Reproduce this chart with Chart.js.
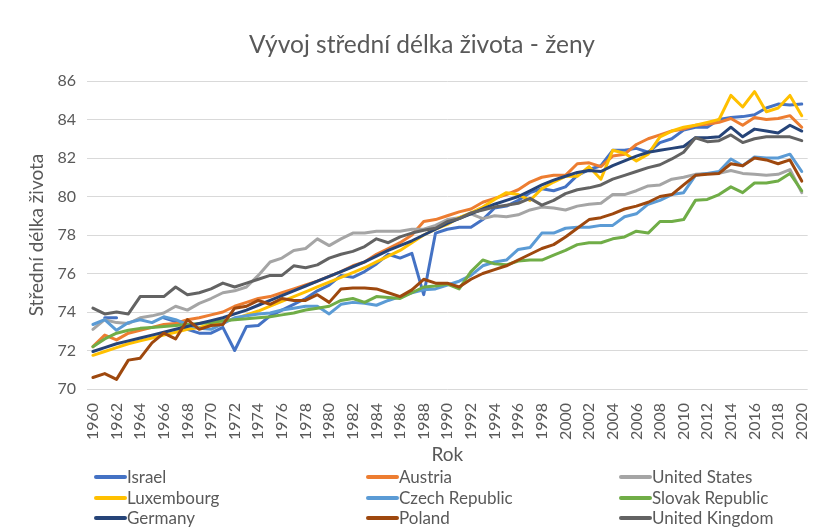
<!DOCTYPE html>
<html>
<head>
<meta charset="utf-8">
<title>Vývoj střední délka života - ženy</title>
<script src="https://cdn.jsdelivr.net/npm/chart.js@4.4.0/dist/chart.umd.min.js"></script>
<style>
  html, body { margin: 0; padding: 0; background: #fff; }
  #wrap { width: 827px; height: 530px; }
</style>
</head>
<body>
<div id="wrap"><canvas id="lifeChart" width="827" height="530"></canvas></div>
<script>
// Female life expectancy, 1960-2020
const years = [
  '1960', '1961', '1962', '1963', '1964', '1965', '1966', '1967', '1968', '1969',
  '1970', '1971', '1972', '1973', '1974', '1975', '1976', '1977', '1978', '1979',
  '1980', '1981', '1982', '1983', '1984', '1985', '1986', '1987', '1988', '1989',
  '1990', '1991', '1992', '1993', '1994', '1995', '1996', '1997', '1998', '1999',
  '2000', '2001', '2002', '2003', '2004', '2005', '2006', '2007', '2008', '2009',
  '2010', '2011', '2012', '2013', '2014', '2015', '2016', '2017', '2018', '2019',
  '2020'
];

const israel = [
  null, 73.7, 73.7, null, null, null, 73.7, 73.5, 73.1, 72.9,
  72.9, 73.2, 72.0, 73.25, 73.3, 73.8, 74.1, 74.4, 74.7, 75.1,
  75.4, 75.9, 75.8, 76.1, 76.5, 77.0, 76.8, 77.05, 74.9, 78.1,
  78.3, 78.4, 78.4, 78.8, 79.4, 79.5, 79.8, 80.2, 80.4, 80.3,
  80.5, 81.1, 81.4, 81.6, 82.4, 82.4, 82.5, 82.3, 82.8, 83.0,
  83.45, 83.6, 83.6, 84.0, 84.1, 84.15, 84.25, 84.6, 84.8, 84.75,
  84.8
];
const austria = [
  72.2, 72.8, 72.55, 72.9, 73.05, 73.2, 73.35, 73.4, 73.6, 73.7,
  73.85, 74.0, 74.3, 74.5, 74.7, 74.8, 75.0, 75.2, 75.4, 75.6,
  75.85, 76.1, 76.4, 76.6, 77.0, 77.3, 77.6, 78.0, 78.7, 78.8,
  79.0, 79.2, 79.35, 79.7, 79.9, 80.1, 80.35, 80.75, 81.0, 81.1,
  81.1, 81.7, 81.75, 81.55, 82.1, 82.2, 82.7, 83.0, 83.2, 83.4,
  83.5, 83.7, 83.75, 83.85, 84.05, 83.7, 84.1, 84.0, 84.05, 84.2,
  83.6
];
const unitedStates = [
  73.1, 73.6, 73.45, 73.4, 73.7, 73.8, 73.95, 74.3, 74.1, 74.45,
  74.7, 75.0, 75.1, 75.3, 75.9, 76.6, 76.8, 77.2, 77.3, 77.8,
  77.45, 77.8, 78.1, 78.1, 78.2, 78.2, 78.2, 78.3, 78.3, 78.5,
  78.8, 78.9, 79.1, 78.85, 79.0, 78.95, 79.05, 79.3, 79.45, 79.4,
  79.3, 79.5, 79.6, 79.65, 80.1, 80.1, 80.3, 80.55, 80.6, 80.9,
  81.0, 81.15, 81.2, 81.2, 81.35, 81.2, 81.15, 81.1, 81.15, 81.4,
  80.2
];
const luxembourg = [
  71.75, 71.95, 72.15, 72.35, 72.5, 72.65, 72.8, 72.95, 73.1, 73.2,
  73.35, 73.5, 73.65, 73.85, 74.05, 74.3, 74.55, 74.8, 75.05, 75.3,
  75.55, 75.8, 76.05, 76.3, 76.6, 76.9, 77.2, 77.6, 78.0, 78.3,
  78.55, 78.9, 79.15, 79.45, 79.85, 80.2, 80.1, 79.8, 80.4, 80.75,
  81.05, 81.05, 81.55, 80.9, 82.4, 82.25, 81.85, 82.2, 83.1, 83.4,
  83.6, 83.7, 83.85, 84.0, 85.25, 84.65, 85.45, 84.4, 84.6, 85.25,
  84.2
];
const czechRepublic = [
  73.35, 73.6, 73.05, 73.45, 73.6, 73.45, 73.75, 73.6, 73.35, 73.15,
  73.1, 73.4, 73.7, 73.8, 73.9, 73.95, 74.1, 74.2, 74.3, 74.3,
  73.9, 74.4, 74.5, 74.45, 74.35, 74.6, 74.8, 75.0, 75.15, 75.2,
  75.4, 75.6, 75.9, 76.4, 76.6, 76.7, 77.25, 77.35, 78.1, 78.1,
  78.35, 78.4, 78.4, 78.5, 78.5, 78.95, 79.1, 79.6, 79.8, 80.1,
  80.2, 81.1, 81.2, 81.3, 81.95, 81.6, 82.05, 82.0, 82.0, 82.2,
  81.3
];
const slovakRepublic = [
  72.2, 72.6, 72.9, 73.05, 73.15, 73.2, 73.25, 73.3, 73.35, 73.4,
  73.45, 73.55, 73.6, 73.65, 73.7, 73.75, 73.85, 73.95, 74.1, 74.2,
  74.3, 74.6, 74.7, 74.5, 74.8, 74.75, 74.7, 75.0, 75.3, 75.35,
  75.45, 75.2, 76.1, 76.7, 76.5, 76.45, 76.65, 76.7, 76.7, 76.95,
  77.2, 77.5, 77.6, 77.6, 77.8, 77.9, 78.2, 78.1, 78.7, 78.7,
  78.8, 79.8, 79.85, 80.1, 80.5, 80.2, 80.7, 80.7, 80.8, 81.2,
  80.3
];
const germany = [
  71.95, 72.15, 72.35, 72.5, 72.65, 72.8, 72.95, 73.1, 73.25, 73.4,
  73.55, 73.7, 73.9, 74.1, 74.35, 74.6, 74.85, 75.1, 75.35, 75.6,
  75.85, 76.1, 76.35, 76.6, 76.9, 77.2, 77.45, 77.7, 78.0, 78.3,
  78.6, 78.85, 79.1, 79.35, 79.6, 79.8, 80.0, 80.3, 80.6, 80.85,
  81.05, 81.25, 81.35, 81.3, 81.6, 81.85, 82.1, 82.3, 82.4, 82.5,
  82.6, 83.05, 83.05, 83.1, 83.6, 83.1, 83.5, 83.4, 83.3, 83.7,
  83.4
];
const poland = [
  70.6, 70.8, 70.5, 71.5, 71.6, 72.4, 72.9, 72.6, 73.6, 73.1,
  73.3, 73.35, 74.2, 74.3, 74.6, 74.4, 74.7, 74.6, 74.6, 74.9,
  74.5, 75.2, 75.25, 75.25, 75.2, 75.0, 74.8, 75.15, 75.7, 75.5,
  75.5, 75.3, 75.7, 76.0, 76.2, 76.4, 76.7, 77.0, 77.3, 77.5,
  77.9, 78.35, 78.8, 78.9, 79.1, 79.35, 79.5, 79.7, 80.0, 80.1,
  80.6, 81.1, 81.15, 81.2, 81.7, 81.6, 82.0, 81.9, 81.7, 81.9,
  80.8
];
const unitedKingdom = [
  74.2, 73.9, 74.0, 73.9, 74.8, 74.8, 74.8, 75.3, 74.9, 75.0,
  75.2, 75.5, 75.3, 75.5, 75.7, 75.9, 75.9, 76.4, 76.3, 76.45,
  76.8, 77.0, 77.15, 77.4, 77.8, 77.6, 77.9, 78.1, 78.25, 78.35,
  78.7, 78.85, 79.15, 79.3, 79.45, 79.55, 79.65, 79.9, 79.55, 79.8,
  80.15, 80.35, 80.45, 80.6, 80.9, 81.1, 81.3, 81.5, 81.65, 81.95,
  82.3, 83.05, 82.85, 82.9, 83.2, 82.8, 83.0, 83.1, 83.1, 83.1,
  82.9
];

const yTicks = [70, 72, 74, 76, 78, 80, 82, 84, 86];

const seriesNames = ['Israel', 'Austria', 'United States', 'Luxembourg', 'Czech Republic',
  'Slovak Republic', 'Germany', 'Poland', 'United Kingdom'];
const seriesValues = [israel, austria, unitedStates, luxembourg, czechRepublic,
  slovakRepublic, germany, poland, unitedKingdom];
const seriesColors = ['#4472C4', '#ED7D31', '#A5A5A5', '#FFC000', '#5B9BD5',
  '#70AD47', '#264478', '#9E480E', '#636363'];

const FONT = 'Lato, "Open Sans", sans-serif';
const TEXT = '#595959';

// title, axis titles and a 3-column legend like the Excel one
const textPlugin = {
  id: 'texts',
  afterDraw(chart) {
    const {ctx, chartArea} = chart;
    ctx.save();
    ctx.fillStyle = TEXT;
    ctx.textAlign = 'center';
    ctx.textBaseline = 'middle';

    ctx.font = '24.5px ' + FONT;
    ctx.fillText('Vývoj střední délka života - ženy', 422, 45);

    ctx.font = '19px ' + FONT;
    ctx.fillText('Rok', (chartArea.left + chartArea.right) / 2, 455);

    ctx.save();
    ctx.translate(37, (chartArea.top + chartArea.bottom) / 2);
    ctx.rotate(-Math.PI / 2);
    ctx.fillText('Střední délka života', 0, 0);
    ctx.restore();

    const colX = [96, 368, 621];
    const rowY = [477, 498, 518];
    ctx.font = '17px ' + FONT;
    ctx.textAlign = 'left';
    chart.data.datasets.forEach((ds, i) => {
      const x = colX[i % 3];
      const y = rowY[Math.floor(i / 3)];
      ctx.strokeStyle = ds.borderColor;
      ctx.lineWidth = 4;
      ctx.lineCap = 'round';
      ctx.beginPath();
      ctx.moveTo(x, y);
      ctx.lineTo(x + 29, y);
      ctx.stroke();
      ctx.fillStyle = TEXT;
      ctx.fillText(ds.label, x + 31, y + 1);
    });
    ctx.restore();
  }
};

const chart = new Chart(document.getElementById('lifeChart'), {
  type: 'line',
  data: {
    labels: years,
    datasets: seriesNames.map((name, i) => ({
      label: name,
      data: seriesValues[i],
      borderColor: seriesColors[i],
      backgroundColor: seriesColors[i],
      borderWidth: 3,
      pointRadius: 0,
      tension: 0,
      fill: false,
      spanGaps: false,
      borderJoinStyle: 'round',
      borderCapStyle: 'round',
      order: -i // later series on top, as in Excel
    }))
  },
  options: {
    responsive: false,
    devicePixelRatio: 1,
    animation: false,
    layout: { padding: { top: 81, right: 6, bottom: 0, left: 0 } },
    plugins: {
      legend: { display: false },
      title: { display: false },
      tooltip: { enabled: false }
    },
    scales: {
      x: {
        offset: true,
        grid: { display: false },
        border: { display: false },
        ticks: {
          autoSkip: false,
          maxRotation: 90,
          minRotation: 90,
          padding: 6,
          color: TEXT,
          font: { family: FONT, size: 16 },
          callback: function (val, i) {
            return i % 2 === 0 ? this.getLabelForValue(val) : '';
          }
        },
        afterFit(scale) { scale.height = 141; }
      },
      y: {
        min: yTicks[0],
        max: yTicks[yTicks.length - 1],
        afterBuildTicks(scale) { scale.ticks = yTicks.map(v => ({ value: v })); },
        grid: { color: '#D9D9D9', lineWidth: 1, drawTicks: false },
        border: { display: false },
        ticks: {
          padding: 11,
          color: TEXT,
          font: { family: FONT, size: 16 }
        },
        afterFit(scale) { scale.width = 87; }
      }
    }
  },
  plugins: [textPlugin]
});
</script>
</body>
</html>
